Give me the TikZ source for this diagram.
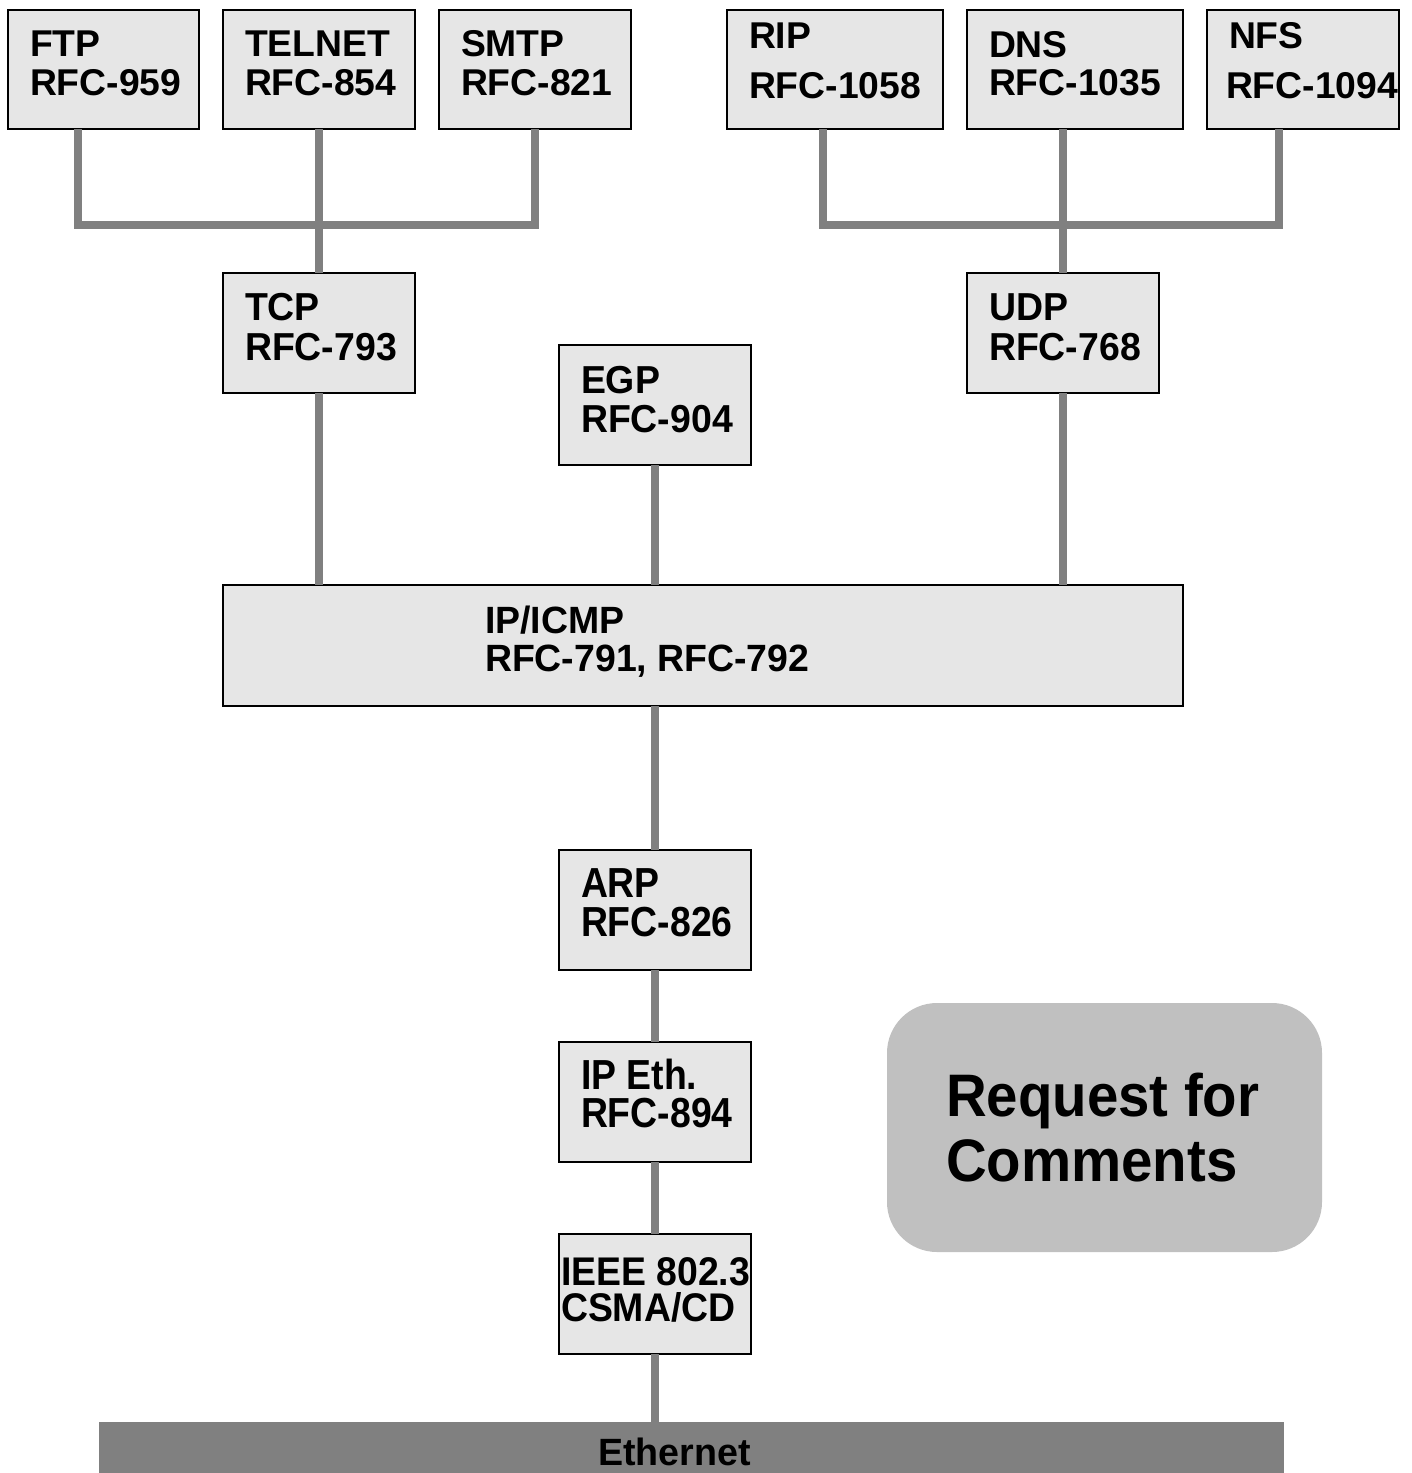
\documentclass[tikz,border=0pt]{standalone}
\usepackage{fontspec}
\setmainfont{Liberation Sans}
% condensed variants of the same face
\newfontfamily\fontA[FakeStretch=0.96]{Liberation Sans}
\newfontfamily\fontB[FakeStretch=0.985]{Liberation Sans}
\newfontfamily\fontC[FakeStretch=0.89]{Liberation Sans}
\newfontfamily\fontD[FakeStretch=0.94]{Liberation Sans}
\newfontfamily\fontE[FakeStretch=0.99]{Liberation Sans}
\newfontfamily\fontF[FakeStretch=0.935]{Liberation Sans}

\definecolor{boxgray}{HTML}{E6E6E6}
\definecolor{linkgray}{HTML}{808080}
\definecolor{notegray}{HTML}{C0C0C0}

\tikzset{
  box/.style={draw=black, line width=2pt, fill=boxgray, inner sep=0pt, outer sep=0pt},
  link/.style={draw=linkgray, line width=8pt, line join=miter, line cap=butt},
  lbl/.style={anchor=base west, inner sep=0pt, outer sep=0pt},
  topfont/.style={lbl, font=\fontsize{37.3}{37.3}\selectfont\bfseries},
  midfont/.style={lbl, font=\fontsize{39}{39}\selectfont\fontA\bfseries},
  ipfont/.style={lbl, font=\fontsize{38}{38}\selectfont\fontB\bfseries},
  lowfont/.style={lbl, font=\fontsize{42}{42}\selectfont\fontC\bfseries},
  tightfont/.style={lbl, text height=30pt, text depth=4pt, font=\fontsize{40}{40}\selectfont\fontF\bfseries},
  bigfont/.style={lbl, font=\fontsize{60}{60}\selectfont\fontD\bfseries},
  ethfont/.style={lbl, font=\fontsize{38}{38}\selectfont\fontE\bfseries},
}

\begin{document}
\begin{tikzpicture}[x=1pt, y=-1pt]
\useasboundingbox (0,0) rectangle (1412,1473);

% application layer
\node[box, minimum width=191, minimum height=119] (ftp)    at (103.5,69.5) {};
\node[box, minimum width=192, minimum height=119] (telnet) at (319,69.5) {};
\node[box, minimum width=192, minimum height=119] (smtp)   at (535,69.5) {};
\node[box, minimum width=216, minimum height=119] (rip)    at (835,69.5) {};
\node[box, minimum width=216, minimum height=119] (dns)    at (1075,69.5) {};
\node[box, minimum width=192, minimum height=119] (nfs)    at (1303,69.5) {};

% transport layer
\node[box, minimum width=192, minimum height=120] (tcp) at (319,333) {};
\node[box, minimum width=192, minimum height=120] (udp) at (1063,333) {};
\node[box, minimum width=192, minimum height=120] (egp) at (655,405) {};

% network layer
\node[box, minimum width=960, minimum height=121] (ip) at (703,645.5) {};

% link layer
\node[box, minimum width=192, minimum height=120] (arp)   at (655,910) {};
\node[box, minimum width=192, minimum height=120] (ipeth) at (655,1102) {};
\node[box, minimum width=192, minimum height=120] (ieee)  at (655,1294) {};

% medium
\node[fill=linkgray, inner sep=0pt, minimum width=1185, minimum height=51] (ether) at (691.5,1447.5) {};

% note
\node[fill=notegray, rounded corners=50pt, inner sep=0pt, minimum width=435, minimum height=249] (note) at (1104.5,1127.5) {};

% connectors between the upper protocols
\coordinate (tj) at (319,225);
\coordinate (uj) at (1063,225);
\draw[link] ([xshift=-25.5pt]ftp.south) |- (tj) -| (smtp.south);
\draw[link] (telnet.south) -- (tcp.north);
\draw[link] ([xshift=-12pt]rip.south) |- (uj) -| ([xshift=-24pt]nfs.south);
\draw[link] ([xshift=-12pt]dns.south) -- (udp.north);

% connectors to IP
\draw[link] (tcp.south) -- (tcp.south |- ip.north);
\draw[link] (egp.south) -- (egp.south |- ip.north);
\draw[link] (udp.south) -- (udp.south |- ip.north);

% connectors down the stack
\draw[link] (ip.south -| arp.north) -- (arp.north);
\draw[link] (arp.south) -- (ipeth.north);
\draw[link] (ipeth.south) -- (ieee.north);
\draw[link] (ieee.south) -- (ieee.south |- ether.north);

% labels
\node[topfont] (ftp1) at (30,56) {FTP};
\node[topfont] (ftp2) at (30,95) {RFC-959};
\node[topfont] (telnet1) at (245,56) {TELNET};
\node[topfont] (telnet2) at (245,95) {RFC-854};
\node[topfont] (smtp1) at (461,56) {SMTP};
\node[topfont] (smtp2) at (461,95) {RFC-821};
\node[topfont] (rip1) at (749,48) {RIP};
\node[topfont] (rip2) at (749,98) {RFC-1058};
\node[topfont] (dns1) at (989,57) {DNS};
\node[topfont] (dns2) at (989,95) {RFC-1035};
\node[topfont] (nfs1) at (1229,48) {NFS};
\node[topfont] (nfs2) at (1226,98) {RFC-1094};

\node[midfont] (tcp1) at (245,320) {TCP};
\node[midfont] (tcp2) at (245,360) {RFC-793};
\node[midfont] (udp1) at (989,320) {UDP};
\node[midfont] (udp2) at (989,360) {RFC-768};
\node[midfont] (egp1) at (581,393) {EGP};
\node[midfont] (egp2) at (581,432) {RFC-904};

\node[ipfont] (ip1) at (485,633) {IP/ICMP};
\node[ipfont] (ip2) at (485,671) {RFC-791, RFC-792};

\node[lowfont] (arp1) at (581,897) {ARP};
\node[lowfont] (arp2) at (581,936) {RFC-826};
\node[lowfont] (ipeth1) at (581,1089) {IP Eth.};
\node[lowfont] (ipeth2) at (581,1127) {RFC-894};
\node[tightfont] (ieee1) at (561,1285) {IEEE 802.3};
\node[tightfont] (ieee2) at (561,1321) {CSMA/CD};

\node[bigfont] (note1) at (946,1116) {Request for};
\node[bigfont] (note2) at (946,1181) {Comments};

\node[ethfont] (ether1) at (598,1465) {Ethernet};
\end{tikzpicture}
\end{document}
